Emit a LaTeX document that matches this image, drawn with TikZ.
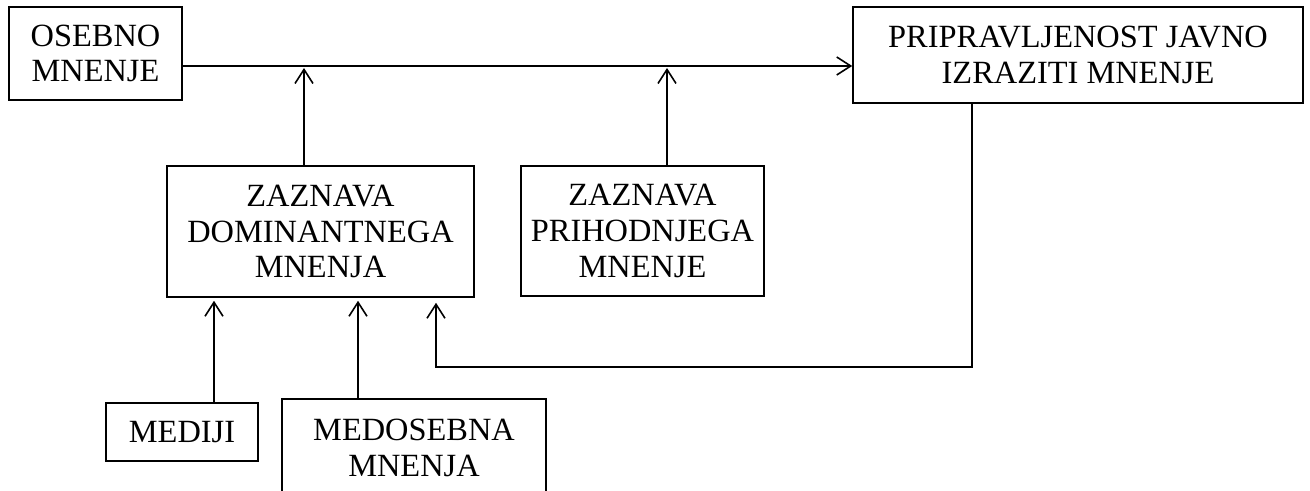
\documentclass[tikz,border=0pt]{standalone}
\usepackage{fontspec}
\setmainfont{Liberation Serif}
\usepackage{tikz}
\usetikzlibrary{arrows.meta}

\begin{document}
\begin{tikzpicture}[x=0.5pt,y=-0.5pt,line width=0.8pt,
		>={Straight Barb[length=7pt,width=9pt]}]
	\tikzstyle{box}=[draw=black,rectangle,inner sep=0pt,align=center,
		font=\fontsize{16.2}{17.8}\selectfont]
	\clip (0,0) rectangle (1310,491);
	\node[box,minimum width=86.5pt,minimum height=46.5pt](osebno) at (95.5,53.5){OSEBNO\\MNENJE};
	\node[box,minimum width=225pt,minimum height=48pt](javno) at (1078,55){PRIPRAVLJENOST JAVNO\\IZRAZITI MNENJE};
	\node[box,minimum width=153.5pt,minimum height=65.5pt](dominantno) at (320.5,231.5){ZAZNAVA\\DOMINANTNEGA\\MNENJA};
	\node[box,minimum width=121.5pt,minimum height=65pt](prihodnje) at (642.5,231){ZAZNAVA\\PRIHODNJEGA\\MNENJE};
	\node[box,minimum width=76pt,minimum height=29pt](mediji) at (182,432){MEDIJI};
	\node[box,minimum width=132pt,minimum height=49pt](medosebna) at (414,448){MEDOSEBNA\\MNENJA};
	\coordinate (j1) at (304,66);
	\coordinate (j2) at (667,66);
	\coordinate (f1) at (972,367);
	\coordinate (f2) at (436,367);
	\coordinate (m1) at (214,300);
	\coordinate (m2) at (358,300);
	\draw[->] (osebno.east |- j1) -- (javno.west |- j1);
	\draw[->,shorten >=1pt] (dominantno.north -| j1) -- (j1);
	\draw[->,shorten >=1pt] (prihodnje.north -| j2) -- (j2);
	\draw[->,shorten >=2.5pt] (javno.south -| f1) -- (f1) -- (f2) -- (dominantno.south -| f2);
	\draw[->,shorten >=1.5pt] (mediji.north -| m1) -- (dominantno.south -| m1);
	\draw[->,shorten >=1.5pt] (medosebna.north -| m2) -- (dominantno.south -| m2);
\end{tikzpicture}
\end{document}
